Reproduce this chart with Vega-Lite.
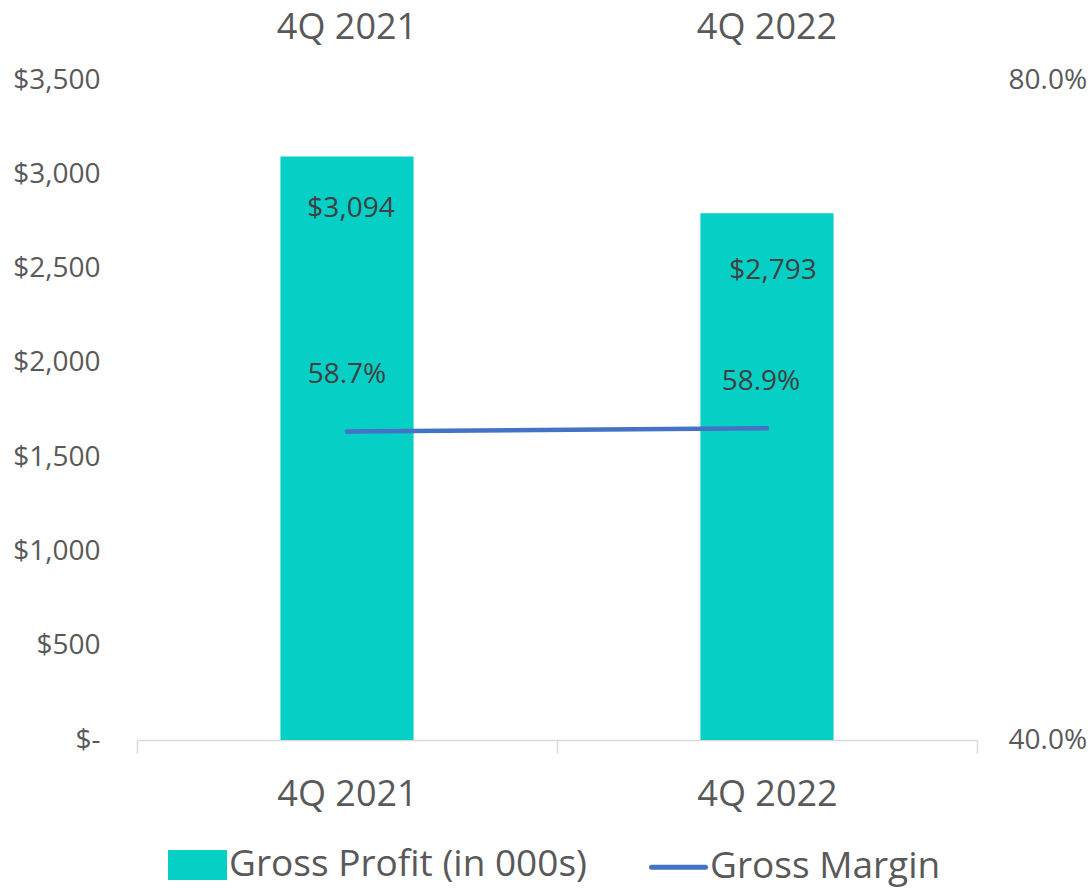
{
  "$schema": "https://vega.github.io/schema/vega-lite/v6.json",
  "width": 840,
  "height": 660,
  "autosize": "none",
  "padding": {"left": 137, "top": 80, "right": 115, "bottom": 151},
  "background": "white",
  "config": {
    "view": {"stroke": null},
    "font": "Open Sans",
    "axis": {"grid": false, "labelColor": "#595959", "labelFont": "Open Sans"}
  },
  "data": {
    "values": [
      {"quarter": "4Q 2021", "profit": 3094, "margin": 0.587},
      {"quarter": "4Q 2022", "profit": 2793, "margin": 0.589}
    ]
  },
  "layer": [
    {
      "encoding": {
        "x": {
          "field": "quarter", "type": "nominal", "sort": null, "title": null,
          "scale": {"paddingInner": 0, "paddingOuter": 0},
          "axis": {
            "orient": "bottom", "labelFontSize": 36, "labelAngle": 0,
            "domainColor": "#D9D9D9", "domainWidth": 1.5,
            "tickColor": "#D9D9D9", "tickWidth": 1.5, "tickSize": 13,
            "tickBand": "extent", "labelPadding": 24
          }
        },
        "y": {
          "field": "profit", "type": "quantitative", "title": null,
          "scale": {"domain": [0, 3500], "nice": false},
          "axis": {
            "values": [0, 500, 1000, 1500, 2000, 2500, 3000, 3500],
            "labelExpr": "datum.value == 0 ? '$-' : '$' + format(datum.value, ',')",
            "labelFontSize": 28, "domain": false, "ticks": false, "labelPadding": 37
          }
        }
      },
      "layer": [
        {
          "mark": {"type": "bar", "width": {"band": 0.317}},
          "encoding": {
            "color": {
              "datum": "Gross Profit (in 000s)", "type": "nominal",
              "scale": {"domain": ["Gross Profit (in 000s)", "Gross Margin"], "range": ["#06CFC5", "#4472C4"]},
              "legend": {
                "orient": "none", "legendX": 31, "legendY": 755, "direction": "horizontal",
                "title": null, "labelFontSize": 37, "labelColor": "#595959", "labelFont": "Open Sans",
                "labelLimit": 800,
                "symbolSize": 2916, "labelOffset": 2, "columnPadding": 54, "padding": 0,
                "encode": {
                  "symbols": {
                    "update": {
                      "shape": {"signal": "datum.value === 'Gross Margin' ? 'M-1,0H1' : 'M-1,-0.463H1V0.463H-1Z'"},
                      "fill": {"signal": "datum.value === 'Gross Margin' ? 'transparent' : '#06CFC5'"},
                      "stroke": {"signal": "datum.value === 'Gross Margin' ? '#4472C4' : 'transparent'"},
                      "strokeWidth": {"value": 5},
                      "strokeCap": {"value": "round"},
                      "opacity": {"value": 1}
                    }
                  }
                }
              }
            }
          }
        },
        {
          "transform": [{"filter": "datum.quarter == '4Q 2021'"}],
          "mark": {"type": "text", "dy": 52, "dx": 4, "fontSize": 28, "color": "#404040", "baseline": "middle", "font": "Open Sans"},
          "encoding": {"text": {"field": "profit", "type": "quantitative", "format": "$,"}}
        },
        {
          "transform": [{"filter": "datum.quarter == '4Q 2022'"}],
          "mark": {"type": "text", "dy": 58, "dx": 6, "fontSize": 28, "color": "#404040", "baseline": "middle", "font": "Open Sans"},
          "encoding": {"text": {"field": "profit", "type": "quantitative", "format": "$,"}}
        }
      ]
    },
    {
      "encoding": {
        "x": {
          "field": "quarter", "type": "nominal", "sort": null, "title": null,
          "scale": {"paddingInner": 0, "paddingOuter": 0},
          "axis": {
            "orient": "top", "labelFontSize": 36, "labelAngle": 0,
            "domain": false, "ticks": false, "labelPadding": 34
          }
        },
        "y": {
          "field": "margin", "type": "quantitative", "title": null,
          "scale": {"domain": [0.4, 0.8], "nice": false, "zero": false},
          "axis": {
            "orient": "right", "values": [0.4, 0.8], "format": ".1%",
            "labelFontSize": 28, "domain": false, "ticks": false, "labelPadding": 31
          }
        }
      },
      "layer": [
        {
          "mark": {"type": "line", "strokeWidth": 4.5, "strokeCap": "round"},
          "encoding": {"color": {"datum": "Gross Margin", "type": "nominal"}}
        },
        {
          "transform": [{"filter": "datum.quarter == '4Q 2021'"}],
          "mark": {"type": "text", "dy": -56, "dx": 0, "fontSize": 28, "color": "#404040", "baseline": "middle", "font": "Open Sans"},
          "encoding": {"text": {"field": "margin", "type": "quantitative", "format": ".1%"}}
        },
        {
          "transform": [{"filter": "datum.quarter == '4Q 2022'"}],
          "mark": {"type": "text", "dy": -46, "dx": -6, "fontSize": 28, "color": "#404040", "baseline": "middle", "font": "Open Sans"},
          "encoding": {"text": {"field": "margin", "type": "quantitative", "format": ".1%"}}
        }
      ]
    }
  ],
  "resolve": {"scale": {"y": "independent"}, "axis": {"x": "independent"}}
}
